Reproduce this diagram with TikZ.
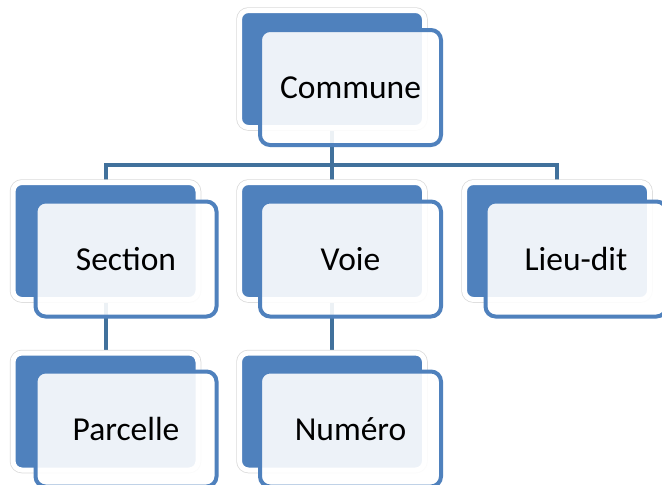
\documentclass[tikz,border=0pt]{standalone}
\usepackage{fontspec}
\setmainfont{Carlito}
\usetikzlibrary{backgrounds}
\definecolor{boxblue}{HTML}{4F81BD}
\definecolor{connblue}{HTML}{41719C}
\tikzset{
  backbox/.style={rectangle, rounded corners=9pt, fill=boxblue, draw=white, line width=5pt,
    minimum width=185pt, minimum height=117pt, inner sep=0pt,
    preaction={draw=black!14, line width=6.5pt}},
  frontbox/.style={rectangle, rounded corners=10pt, fill=white, fill opacity=0.9, text opacity=1,
    draw=boxblue, line width=4pt, minimum width=181pt, minimum height=115pt, inner sep=0pt,
    font=\fontsize{33.5}{40}\selectfont, text=black},
  conn/.style={draw=connblue, line width=4pt}
}
\begin{document}
\begin{tikzpicture}[x=1pt,y=-1pt]
\useasboundingbox (0,0) rectangle (662,485);
\clip (0,0) rectangle (662,485);
% back boxes
\node[backbox] (cb) at (332,69) {};
\node[backbox] (sb) at (105.5,241) {};
\node[backbox] (vb) at (332,241) {};
\node[backbox] (lb) at (557,241) {};
\node[backbox] (pb) at (105.5,411.5) {};
\node[backbox] (nb) at (332,411.5) {};
% front boxes
\node[frontbox] (cf) at (350.5,87.5) {Commune};
\node[frontbox] (sf) at (126,259) {Section};
\node[frontbox] (vf) at (350.5,259) {Voie};
\node[frontbox] (lf) at (576,259) {Lieu-dit};
\node[frontbox] (pf) at (126,429) {Parcelle};
\node[frontbox] (nf) at (350.5,429) {Numéro};
\coordinate (bar) at (332,165);
\begin{scope}[on background layer]
\fill[white] (0,0) rectangle (662,485);
\draw[conn] (sb.north) |- (bar) -| (lb.north);
\draw[conn] (cb.south) -- (vb.north);
\draw[conn] (sb.south) -- (pb.north);
\draw[conn] (vb.south) -- (nb.north);
\end{scope}
\end{tikzpicture}
\end{document}
